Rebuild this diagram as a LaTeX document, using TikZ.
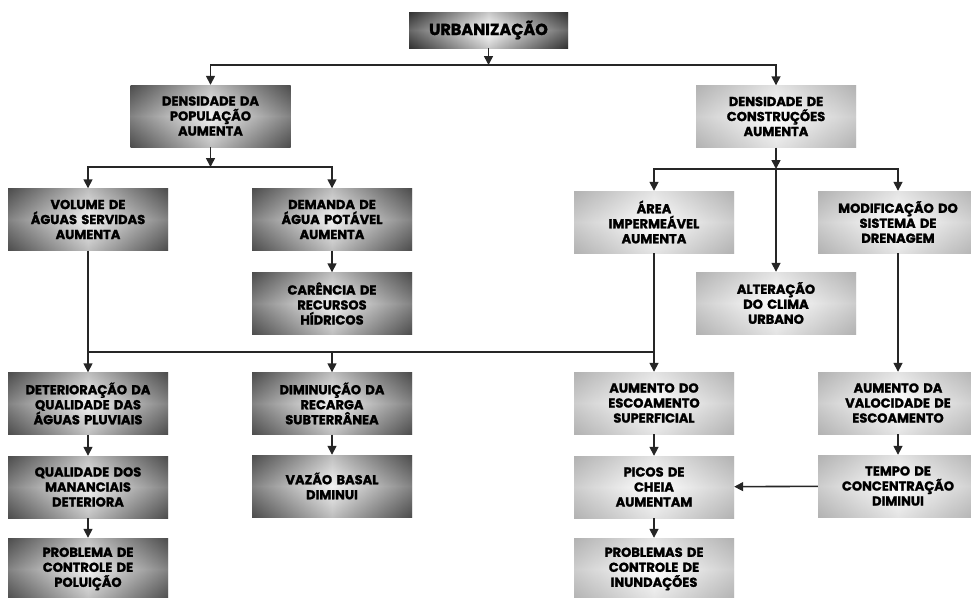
\documentclass[tikz,border=0pt]{standalone}
\usepackage{fontspec}
\setmainfont{Poppins}
\newfontfamily\boxfont{Poppins}[BoldFeatures={FakeBold=1.5}]
\usetikzlibrary{arrows.meta}
\tikzset{
  box/.style={rectangle, minimum width=160pt, minimum height=62pt, inner sep=0pt,
    text width=158pt, align=center, font=\boxfont\bfseries\fontsize{13}{15}\selectfont},
  darkbox/.style={box, left color=black!75, right color=black!75, middle color=white!93!black,
    postaction={fill opacity=0.35, top color=black!60, bottom color=black!60, middle color=white}},
  lightbox/.style={box, left color=black!30, right color=black!30, middle color=white,
    postaction={fill opacity=0.35, top color=black!30, bottom color=black!30, middle color=white}},
  topbox/.style={box, minimum width=159pt, minimum height=36pt, font=\boxfont\bfseries\fontsize{16}{18}\selectfont,
    left color=black!85, right color=black!85, middle color=white,
    postaction={fill opacity=0.3, top color=black!70, bottom color=black!70, middle color=white}},
  arr/.style={draw=black!85, line width=1.6pt, -{Triangle[length=9pt,width=9pt]}},
  link/.style={draw=black!85, line width=1.6pt}
}
\begin{document}
\begin{tikzpicture}[x=1pt, y=-1pt]
	\useasboundingbox (0,0) rectangle (971,597);
	\clip (0,0) rectangle (971,597);
	\node (urb)   at (488.5, 30)	[topbox]	{URBANIZAÇÃO};
	\node (pop)   at (210.5,116)	[darkbox]	{DENSIDADE DA\\POPULAÇÃO\\AUMENTA};
	\node (cons)  at (776,116.5)	[lightbox]	{DENSIDADE DE\\CONSTRUÇÕES\\AUMENTA};
	\node (vol)   at ( 88,219.5)	[darkbox]	{VOLUME DE\\ÁGUAS SERVIDAS\\AUMENTA};
	\node (dem)   at (332,219.5)	[darkbox]	{DEMANDA DE\\ÁGUA POTÁVEL\\AUMENTA};
	\node (car)   at (332,303.5)	[darkbox]	{CARÊNCIA DE\\RECURSOS\\HÍDRICOS};
	\node (area)  at (654,222)	[lightbox]	{ÁREA\\IMPERMEÁVEL\\AUMENTA};
	\node (alt)   at (776,303)	[lightbox]	{ALTERAÇÃO\\DO CLIMA\\URBANO};
	\node (modif) at (898,222)	[lightbox]	{MODIFICAÇÃO DO\\SISTEMA DE\\DRENAGEM};
	\node (det)   at ( 88,403.5)	[darkbox]	{DETERIORAÇÃO DA\\QUALIDADE DAS\\ÁGUAS PLUVIAIS};
	\node (qual)  at ( 88,487)	[darkbox]	{QUALIDADE DOS\\MANANCIAIS\\DETERIORA};
	\node (prob)  at ( 88,569)	[darkbox]	{PROBLEMA DE\\CONTROLE DE\\POLUIÇÃO};
	\node (dim)   at (332,403.5)	[darkbox]	{DIMINUIÇÃO DA\\RECARGA\\SUBTERRÂNEA};
	\node (vaz)   at (332,486)	[darkbox]	{VAZÃO BASAL\\DIMINUI};
	\node (aum)   at (654,403)	[lightbox]	{AUMENTO DO\\ESCOAMENTO\\SUPERFICIAL};
	\node (picos) at (654,487)	[lightbox]	{PICOS DE\\CHEIA\\AUMENTAM};
	\node (probs) at (654,569)	[lightbox]	{PROBLEMAS DE\\CONTROLE DE\\INUNDAÇÕES};
	\node (vel)   at (898,403)	[lightbox]	{AUMENTO DA\\VALOCIDADE DE\\ESCOAMENTO};
	\node (tempo) at (898,486)	[lightbox]	{TEMPO DE\\CONCENTRAÇÃO\\DIMINUI};
	\coordinate (j1) at (488.5,65);
	\coordinate (j2) at (210.5,167);
	\coordinate (j3) at (776,169);
	\coordinate (j4) at (332,352);
	\draw[arr] (urb) -- (j1);
	\draw[arr] (j1) -| (pop);
	\draw[arr] (j1) -| (cons);
	\draw[arr] (pop) -- (j2);
	\draw[arr] (j2) -| (vol);
	\draw[arr] (j2) -| (dem);
	\draw[arr] (dem) -- (car);
	\draw[arr] (cons) -- (j3);
	\draw[arr] (j3) -| (area);
	\draw[arr] (j3) -| (modif);
	\draw[arr] (j3) -- (alt);
	\draw[link] (vol.south |- j4) -- (area.south |- j4);
	\draw[arr] (vol) -- (det);
	\draw[arr] (j4) -- (dim);
	\draw[arr] (area) -- (aum);
	\draw[arr] (modif) -- (vel);
	\draw[arr] (det) -- (qual);
	\draw[arr] (qual) -- (prob);
	\draw[arr] (dim) -- (vaz);
	\draw[arr] (aum) -- (picos);
	\draw[arr] (picos) -- (probs);
	\draw[arr] (vel) -- (tempo);
	\draw[arr] (tempo) -- (picos);
\end{tikzpicture}
\end{document}
